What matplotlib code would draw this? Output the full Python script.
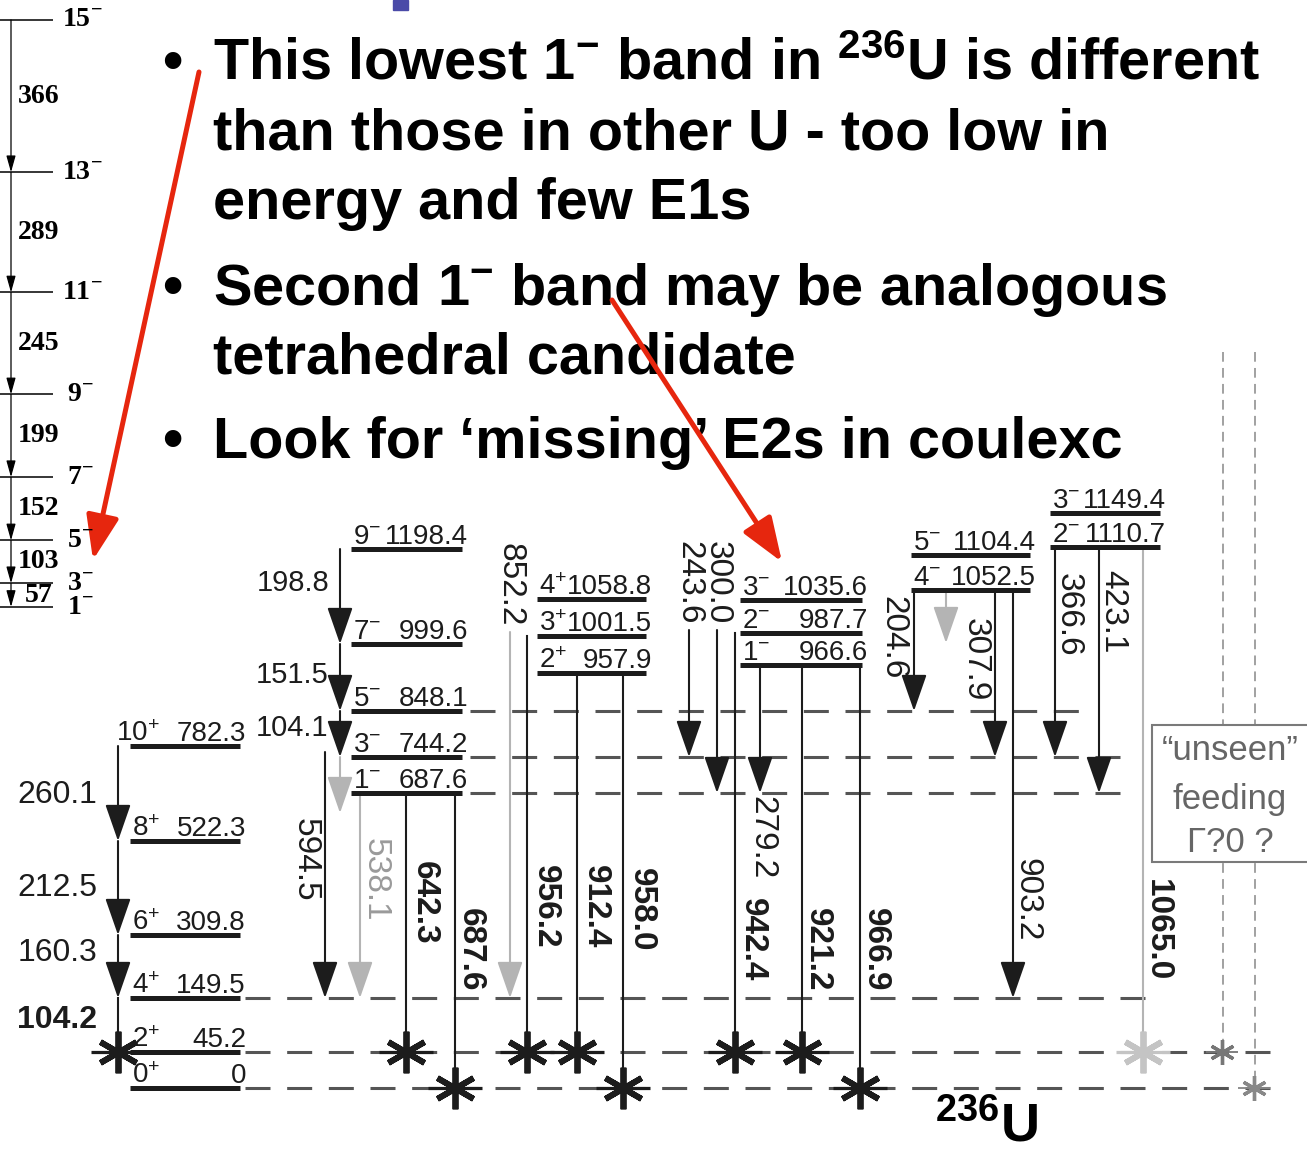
"""
Level scheme of 236U with the lowest and second 1- bands, plus slide bullets.
Writes out.png
"""

import numpy as np
import matplotlib
matplotlib.use("Agg")
import matplotlib.pyplot as plt
from matplotlib.patches import Rectangle

plt.rcParams["mathtext.fontset"] = "custom"
plt.rcParams["mathtext.rm"] = "Liberation Sans"
plt.rcParams["mathtext.bf"] = "Liberation Sans:bold"
plt.rcParams["mathtext.it"] = "Liberation Sans:italic"
plt.rcParams["mathtext.default"] = "rm"
plt.rcParams["lines.scale_dashes"] = False

W, H = 1307, 1153

# ---- slide text ----
bullet_lines = [
    r"This lowest 1$^{\mathbf{-}}$ band in $^{\mathbf{236}}$U is different",
    "than those in other U - too low in",
    "energy and few E1s",
    r"Second 1$^{\mathbf{-}}$ band may be analogous",
    "tetrahedral candidate",
    "Look for \u2018missing\u2019 E2s in coulexc",
]
bullet_starts = [True, False, False, True, False, True]

# ---- lowest 1- band (left inset): spins and gamma energies in keV ----
band1_spins = [1, 3, 5, 7, 9, 11, 13, 15]
band1_gammas = [57, 103, 152, 199, 245, 289, 366]

# ---- 236U levels ----
lev_spin = ["0+", "2+", "4+", "6+", "8+", "10+",
            "1-", "3-", "5-", "7-", "9-",
            "2+", "3+", "4+",
            "1-", "2-", "3-",
            "4-", "5-",
            "2-", "3-"]
lev_energy = [0.0, 45.2, 149.5, 309.8, 522.3, 782.3,
              687.6, 744.2, 848.1, 999.6, 1198.4,
              957.9, 1001.5, 1058.8,
              966.6, 987.7, 1035.6,
              1052.5, 1104.4,
              1110.7, 1149.4]

# ---- gamma rays: initial level, final level, energy (None = unlabelled), weak (grey) ----
g_from = [5, 4, 3, 2, 10, 9, 8, 7, 7, 6, 6, 6, 12, 12, 11, 11,
          15, 15, 15, 14, 14, 14, 17, 17, 17, 17, 19, 19, 19]
g_to = [4, 3, 2, 1, 9, 8, 7, 6, 2, 2, 1, 0, 2, 1, 1, 0,
        7, 6, 1, 6, 1, 0, 8, 7, 2, None, 7, 6, 1]
g_energy = [260.1, 212.5, 160.3, 104.2, 198.8, 151.5, 104.1, None, 594.5,
            538.1, 642.3, 687.6, 852.2, 956.2, 912.4, 958.0,
            243.6, 300.0, 942.4, 279.2, 921.2, 966.9,
            204.6, 307.9, 903.2, None, 366.6, 423.1, 1065.0]
g_weak = [False, False, False, False, False, False, False, True, False,
          True, False, False, True, False, False, False,
          False, False, False, False, False, False,
          False, False, False, True, False, False, True]

# ---- drawing layout (pixels) ----
lev_y = [1088, 1052, 998, 935, 841, 746, 793, 757, 711, 644, 549,
         673, 636, 599, 665, 633, 600, 590, 555, 547, 513]
col_of_level = [0, 0, 0, 0, 0, 0, 1, 1, 1, 1, 1, 2, 2, 2, 3, 3, 3, 4, 4, 5, 5]
col_x0 = [130, 351, 537, 740, 911, 1050]
col_x1 = [240, 462, 646, 862, 1030, 1160]
dash_ext = {8: (470, 1080), 7: (470, 1135), 6: (470, 1130),
            2: (245, 1160), 1: (245, 1285), 0: (245, 1270)}
g_x = [118, 118, 118, 118, 340, 340, 340, 340, 325, 360, 406, 455, 510, 527,
       577, 623, 689, 717, 735, 760, 802, 860, 914, 995, 1013, 946,
       1055, 1099, 1143]
g_y0 = [None] * len(g_x)
g_y0[8], g_y0[12], g_y0[16], g_y0[17] = 752, 632, 630, 630
g_lab = [(57, 795), (57, 888), (57, 953), (57, 1020), (293, 583), (292, 675),
         (292, 728), None, (305, 860), (375, 880), (424, 903), (470, 950),
         (510, 585), (545, 907), (595, 907), (641, 910), (689, 583),
         (717, 583), (752, 940), (762, 838), (817, 950), (875, 950),
         (893, 638), (975, 660), (1027, 900), None, (1068, 615),
         (1113, 612), (1157, 930)]

INK = "#1c1c1c"
GREY = "#b4b4b4"
DASH = "#555555"
RED = "#e6260e"
SANS = "Liberation Sans"

fig = plt.figure(figsize=(W / 100, H / 100), dpi=100, facecolor="white")
ax = fig.add_axes([0, 0, 1, 1])
ax.set_xlim(0, W)
ax.set_ylim(H, 0)
ax.axis("off")


def arrow(a, x, y0, y1, color, lw=1.5, hl=2.3, hw=0.8, ms=10, z=2):
    a.annotate("", xy=(x, y1), xytext=(x, y0),
               arrowprops=dict(arrowstyle=f"-|>,head_length={hl},head_width={hw}",
                               color=color, lw=lw, mutation_scale=ms,
                               shrinkA=0, shrinkB=0), zorder=z)


def star(x, y, color=INK, ms=30, mew=4.2):
    # six-spoke asterisk with a thinner horizontal bar through it
    ax.plot(x, y, marker=(6, 2, 0), ms=ms, mew=mew, color=color, zorder=4)
    ax.plot(x, y, marker="_", ms=ms * 1.3, mew=mew * 0.55, color=color, zorder=4)


# ---- bullets ----
base = [80, 150, 219, 305, 373, 458]
for txt, b, yb in zip(bullet_lines, bullet_starts, base):
    ax.text(213, yb, txt, fontsize=41.5, fontweight="bold", family=SANS,
            va="baseline", ha="left", color="black")
    if b:
        ax.text(172, yb, "\u2022", fontsize=41.5, fontweight="bold", family=SANS,
                va="baseline", ha="center", color="black")
ax.add_patch(Rectangle((393, 0), 15, 10, color="#4a4aa8", zorder=5))

# ---- left inset: lowest 1- band ----
e_lev = np.concatenate([[0], np.cumsum(band1_gammas)])
axi = fig.add_axes([0, (H - 607) / H, 130 / W, 587 / H])
axi.set_xlim(0, 130)
axi.set_ylim(0, e_lev[-1])
axi.axis("off")
for sp, e in zip(band1_spins, e_lev):
    axi.plot([0, 53], [e, e], color="black", lw=1.1, clip_on=False,
             solid_capstyle="butt")
    axi.text(62 if sp > 9 else 67, e, f"{sp}$^{{-}}$", fontsize=20,
             family="Liberation Serif", fontweight="bold", va="center",
             ha="left", color="black")
for g, lo, hi in zip(band1_gammas, e_lev[:-1], e_lev[1:]):
    arrow(axi, 11, hi, lo, "black", lw=0.9, hl=1.0, hw=0.28, ms=10)
    axi.text(39, (lo + hi) / 2, str(g), fontsize=20, family="Liberation Serif",
             fontweight="bold", va="center", ha="center", color="black")

# ---- dashed level extensions ----
for i, (xa, xb) in dash_ext.items():
    ax.plot([xa, xb], [lev_y[i], lev_y[i]], color=DASH, lw=2.2,
            dashes=(18, 12), zorder=1)

# ---- level bars and labels ----
for i, (sp, e) in enumerate(zip(lev_spin, lev_energy)):
    c = col_of_level[i]
    x0, x1, y = col_x0[c], col_x1[c], lev_y[i]
    ax.plot([x0, x1], [y, y], color=INK, lw=3.6, solid_capstyle="butt", zorder=3)
    ax.text(x0 + 30, y - 5, f"{sp[:-1]}$^{{{sp[-1]}}}$", fontsize=20,
            family=SANS, ha="right", va="baseline", color=INK, zorder=5)
    ax.text(x1 + 6, y - 5, "0" if e == 0 else f"{e:.1f}", fontsize=20,
            family=SANS, ha="right", va="baseline", color=INK, zorder=5)

# ---- gamma transitions ----
for k in range(len(g_from)):
    x = g_x[k]
    y0 = g_y0[k] if g_y0[k] is not None else lev_y[g_from[k]]
    col = GREY if g_weak[k] else INK
    if g_to[k] is None:
        y1 = y0 + 53
    else:
        y1 = lev_y[g_to[k]]
    if k == 7:
        y1 = 813
    if g_to[k] in (0, 1):
        ax.plot([x, x], [y0, y1], color=col, lw=1.5, zorder=2)
        star(x, y1, color="#c4c4c4" if g_weak[k] else INK)
    else:
        arrow(ax, x, y0, y1, col)
    if g_energy[k] is None:
        continue
    lx, ly = g_lab[k]
    bold = g_to[k] in (0, 1)
    lab_col = "#9a9a9a" if (g_weak[k] and g_energy[k] < 600) else INK
    if k < 7:
        ax.text(lx, ly, f"{g_energy[k]:.1f}", fontsize=23 if k < 4 else 21,
                family=SANS, ha="center", va="center", color=INK,
                fontweight="bold" if k == 3 else "normal", zorder=5)
    else:
        ax.text(lx, ly, f"{g_energy[k]:.1f}", fontsize=24, rotation=-90,
                family=SANS, ha="center", va="center", color=lab_col,
                fontweight="bold" if bold else "normal", zorder=5)

# ---- "unseen" feeding ----
for xv, yend in ((1223, 1052), (1255, 1088)):
    ax.plot([xv, xv], [352, yend], color="#888888", lw=1.1, dashes=(7, 4.5),
            zorder=1)
ax.add_patch(Rectangle((1152, 725), 170, 137, facecolor="white",
                       edgecolor="#7a7a7a", lw=1.5, zorder=3))
for t, yy in (("\u201cunseen\u201d", 750), ("feeding", 800), ("\u0393?0 ?", 843)):
    ax.text(1230, yy, t, fontsize=25, family=SANS, color="#666666",
            ha="center", va="center", zorder=5)
star(1222, 1052, color="#777777", ms=18, mew=2.4)
star(1254, 1088, color="#888888", ms=18, mew=2.4)

ax.text(935, 1141, r"$^{\mathbf{236}}$U", fontsize=39, fontweight="bold",
        family=SANS, ha="left", va="baseline", color="black", zorder=5)

# ---- red pointers ----
for (xs, ys), (xe, ye) in (((199, 72), (93, 560)), ((612, 300), (782, 562))):
    ax.annotate("", xy=(xe, ye), xytext=(xs, ys),
                arrowprops=dict(arrowstyle="-|>,head_length=2.7,head_width=1.0",
                                color=RED, lw=3.6, mutation_scale=10,
                                shrinkA=0, shrinkB=0), zorder=6)

fig.savefig("out.png", dpi=100, facecolor="white")
